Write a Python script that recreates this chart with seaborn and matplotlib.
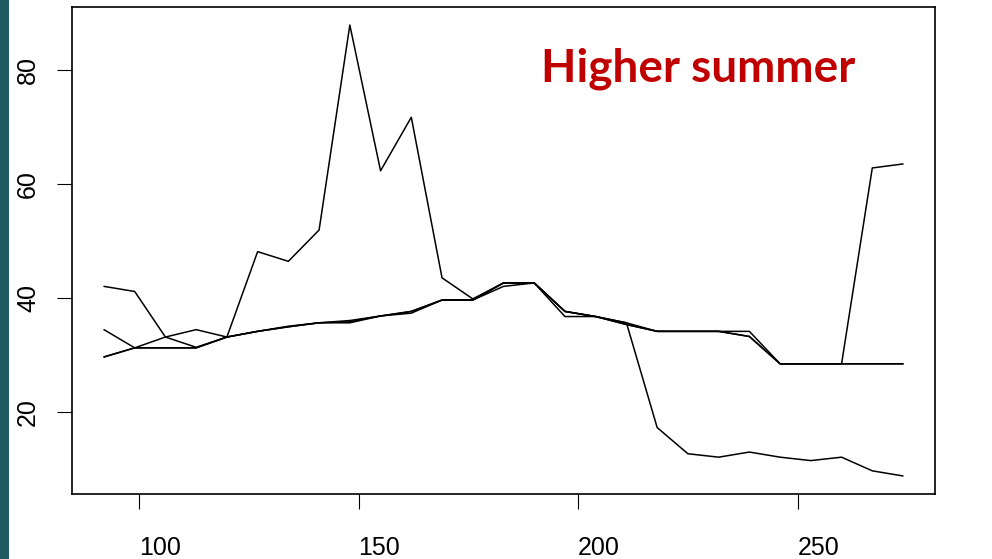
import numpy as np
import pandas as pd
import matplotlib
matplotlib.use("Agg")
import matplotlib.pyplot as plt
import seaborn as sns
from matplotlib.patches import Rectangle

# ---- data (weekly day-of-year) ----
days = [92 + 7 * k for k in range(27)]
baseline = [29.6, 31.2, 31.2, 31.2, 33.1, 34.1, 34.9, 35.6, 35.6, 36.8, 37.3, 39.6, 39.6,
            42.0, 42.6, 36.7, 36.7, 35.3, 34.1, 34.1, 34.1, 33.2, 28.4, 28.4, 28.4, 28.4, 28.4]
fall_drop = [34.4, 31.2, 33.1, 34.4, 33.1, 34.1, 35.0, 35.6, 36.0, 36.8, 37.6, 39.6, 39.6,
             42.6, 42.6, 37.6, 36.7, 35.6, 17.2, 12.6, 12.0, 12.9, 12.0, 11.4, 12.0, 9.6, 8.7]
end_rise = [29.6, 31.2, 31.2, 31.2, 33.1, 34.1, 34.9, 35.6, 35.8, 36.8, 37.6, 39.6, 39.6,
            42.6, 42.6, 37.6, 36.7, 35.6, 34.1, 34.1, 34.1, 34.1, 28.4, 28.4, 28.4, 62.8, 63.5]
summer = [42.0, 41.1, 33.1, 31.3, 33.1, 48.1, 46.4, 51.9, 87.9, 62.3, 71.7, 43.5, 39.8,
          42.6, 42.6, 37.6, 36.7, 35.3, 34.1, 34.1, 34.1, 33.2, 28.4, 28.4, 28.4, 28.4, 28.4]
x_ticks = [100, 150, 200, 250]
y_ticks = [20, 40, 60, 80]
title_text = "Higher summer"

series = {"baseline": baseline, "fall_drop": fall_drop, "end_rise": end_rise, "summer": summer}
df = pd.concat([pd.DataFrame({"day": days, "value": v, "series": k}) for k, v in series.items()],
               ignore_index=True)

sns.set_theme(style="white")
plt.rcParams["font.family"] = ["Liberation Sans", "DejaVu Sans"]

W, H = 992, 559
fig = plt.figure(figsize=(W / 100, H / 100), dpi=100)
fig.patch.set_facecolor("white")
ax = fig.add_axes([72 / W, 1 - 494 / H, (935 - 72) / W, (494 - 7) / H])

sns.lineplot(data=df, x="day", y="value", hue="series", units="series", estimator=None,
             palette=["black"] * 4, legend=False, linewidth=1.1, ax=ax, sort=False)

xr = max(days) - min(days)
ax.set_xlim(min(days) - 0.04 * xr, max(days) + 0.04 * xr)
allv = baseline + fall_drop + end_rise + summer
yr = max(allv) - min(allv)
ax.set_ylim(min(allv) - 0.04 * yr, max(allv) + 0.04 * yr)

ax.set_xticks(x_ticks)
ax.set_yticks(y_ticks)
ax.set_xticklabels([str(t) for t in x_ticks], fontsize=18, ha="left")
ax.set_yticklabels([str(t) for t in y_ticks], fontsize=18, rotation=90, va="center")
ax.tick_params(axis="both", direction="out", length=11, width=0.8, color="black",
               labelcolor="black", bottom=True, left=True)
ax.tick_params(axis="x", pad=19)
ax.tick_params(axis="y", pad=12)
ax.set_xlabel("")
ax.set_ylabel("")
for s in ax.spines.values():
    s.set_visible(True)
    s.set_color("black")
    s.set_linewidth(1.2)

ax.text(0.543, 0.848, title_text, transform=ax.transAxes, fontsize=33, fontweight="bold",
        color="#C00000", family=["Lato", "DejaVu Sans"], ha="left", va="baseline")

# left teal bar
fig.patches.append(Rectangle((0, 0), 9 / W, 1, transform=fig.transFigure,
                             facecolor="#1F5A63", edgecolor="none"))

fig.savefig("out.png", dpi=100)
